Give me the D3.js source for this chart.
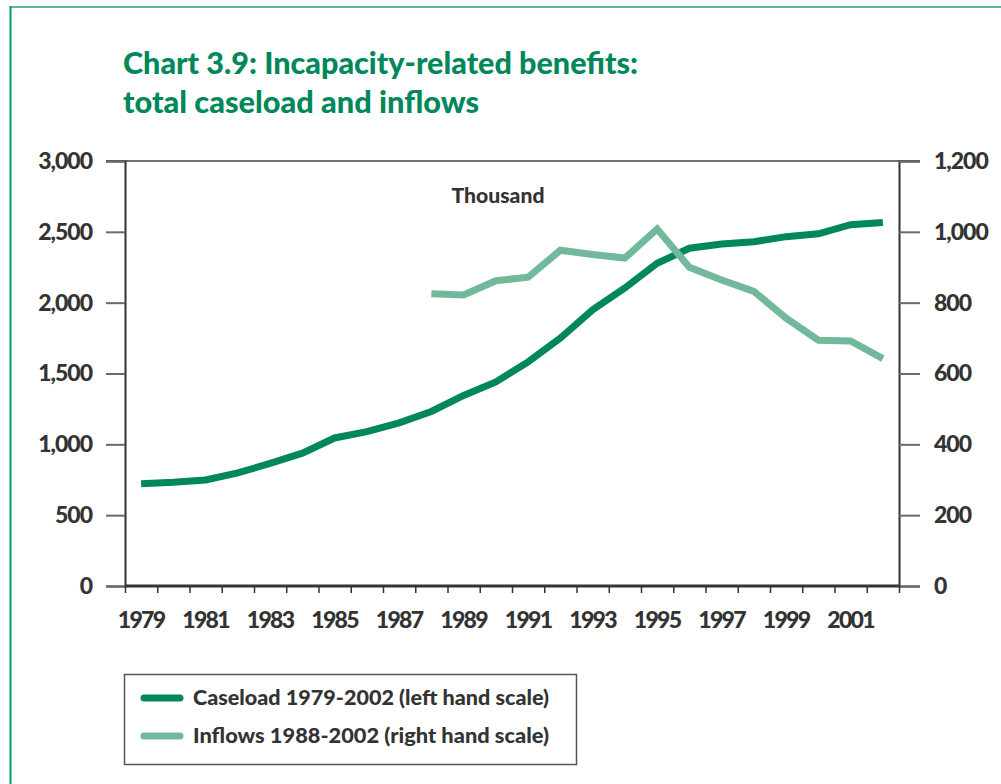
<!DOCTYPE html>
<html>
<head>
<meta charset="utf-8">
<script src="https://cdn.jsdelivr.net/npm/d3@7"></script>
<style>
  html, body { margin: 0; padding: 0; background: #fff; }
  svg { display: block; font-family: Lato, "Open Sans", sans-serif; }
</style>
</head>
<body>
<svg id="chart" width="1001" height="784"></svg>
<script>
// Years on the horizontal axis
const years = d3.range(1979, 2003);
// Total caseload (thousand), left hand scale
const caseload = [722, 732, 748, 798, 866, 938, 1045, 1090, 1152, 1232, 1345, 1440, 1582, 1750, 1950, 2104, 2278, 2384, 2414, 2430, 2466, 2486, 2550, 2566];
// Inflows (thousand) 1988-2002, right hand scale
const inflowYears = d3.range(1988, 2003);
const inflows = [825, 822, 862, 872, 948, 936, 926, 1008, 900, 864, 832, 756, 694, 692, 642];
// Tick values
const leftTicks = [0, 500, 1000, 1500, 2000, 2500, 3000];
const rightTicks = [0, 200, 400, 600, 800, 1000, 1200];
const labelYears = years.filter(y => y % 2 === 1);

const titleLines = ["Chart 3.9: Incapacity-related benefits:", "total caseload and inflows"];
const legendItems = [
  { label: "Caseload 1979-2002 (left hand scale)", color: "#00875a" },
  { label: "Inflows 1988-2002 (right hand scale)", color: "#72b99b" }
];

const svg = d3.select("#chart");
const green = "#00875a";
const light = "#72b99b";
const ink = "#333333";

// Page frame
svg.append("line").attr("x1", 10).attr("x2", 1001).attr("y1", 7).attr("y2", 7)
  .attr("stroke", "#5fb796").attr("stroke-width", 2);
svg.append("line").attr("x1", 10.5).attr("x2", 10.5).attr("y1", 6).attr("y2", 784)
  .attr("stroke", "#00a06c").attr("stroke-width", 2);

// Title
const titleWidths = [515, 356];
titleLines.forEach((t, i) => {
  svg.append("text")
    .attr("x", 123).attr("y", 74 + i * 39)
    .attr("fill", green).attr("font-size", 31).attr("font-weight", 900)
    .attr("textLength", titleWidths[i]).attr("lengthAdjust", "spacingAndGlyphs")
    .text(t);
});

// Plot area
const plot = { left: 125, right: 899, top: 161, bottom: 586 };
const xEdge = d3.scaleLinear().domain([1979, 2003]).range([plot.left, plot.right]);
const x = d3.scaleBand().domain(years).range([plot.left, plot.right]).padding(0);
const yL = d3.scaleLinear().domain([0, 3000]).range([plot.bottom, plot.top]);
const yR = d3.scaleLinear().domain([0, 1200]).range([plot.bottom, plot.top]);

// Top border line of plot
svg.append("line").attr("x1", 106).attr("x2", 920).attr("y1", plot.top).attr("y2", plot.top)
  .attr("stroke", "#707070").attr("stroke-width", 2);

// Left axis
const gL = svg.append("g").attr("transform", `translate(${plot.left},0)`)
  .call(d3.axisLeft(yL).tickValues(leftTicks).tickSize(19).tickPadding(14).tickFormat(d3.format(",")));
// Right axis
const gR = svg.append("g").attr("transform", `translate(${plot.right},0)`)
  .call(d3.axisRight(yR).tickValues(rightTicks).tickSize(21).tickPadding(14).tickFormat(d3.format(",")));
[gL, gR].forEach(g => {
  g.select(".domain").attr("stroke", ink).attr("stroke-width", 2);
  g.selectAll(".tick line").attr("stroke", "#6a6a6a").attr("stroke-width", 2);
  g.selectAll(".tick text").attr("fill", ink).attr("font-size", 23).attr("font-weight", 900)
    .attr("font-family", "Lato, sans-serif").attr("letter-spacing", -1);
});

// Bottom axis: tick marks at year boundaries
const gB = svg.append("g").attr("transform", `translate(0,${plot.bottom})`)
  .call(d3.axisBottom(xEdge).tickValues(d3.range(1979, 2004)).tickSize(7).tickFormat(""));
gB.select(".domain").remove();
gB.selectAll(".tick line").attr("stroke", ink).attr("stroke-width", 1.5);
svg.append("line").attr("x1", plot.left).attr("x2", plot.right).attr("y1", plot.bottom).attr("y2", plot.bottom)
  .attr("stroke", ink).attr("stroke-width", 3);

// Bottom axis labels at odd years
const gBL = svg.append("g").attr("transform", `translate(0,${plot.bottom})`)
  .call(d3.axisBottom(x).tickValues(labelYears).tickSize(0).tickPadding(26));
gBL.select(".domain").remove();
gBL.selectAll(".tick text").attr("fill", ink).attr("font-size", 23).attr("font-weight", 900)
  .attr("font-family", "Lato, sans-serif").attr("letter-spacing", -1.6);

// Unit label
svg.append("text").attr("x", 498).attr("y", 203).attr("text-anchor", "middle")
  .attr("fill", ink).attr("font-size", 20).attr("font-weight", 900)
  .attr("textLength", 93).attr("lengthAdjust", "spacingAndGlyphs").text("Thousand");

// Lines
const cx = d => x(d) + x.bandwidth() / 2;
const lineL = d3.line().x((d, i) => cx(years[i])).y(d => yL(d));
const lineR = d3.line().x((d, i) => cx(inflowYears[i])).y(d => yR(d));

svg.append("path").datum(caseload).attr("d", lineL)
  .attr("fill", "none").attr("stroke", green).attr("stroke-width", 7)
  .attr("stroke-linejoin", "miter").attr("stroke-linecap", "butt");
svg.append("path").datum(inflows).attr("d", lineR)
  .attr("fill", "none").attr("stroke", light).attr("stroke-width", 7)
  .attr("stroke-linejoin", "miter").attr("stroke-linecap", "butt");

// Legend
svg.append("rect").attr("x", 124.5).attr("y", 674.5).attr("width", 452).attr("height", 90)
  .attr("fill", "none").attr("stroke", "#555").attr("stroke-width", 1.5);
legendItems.forEach((it, i) => {
  const yy = 698 + i * 38;
  svg.append("line").attr("x1", 144).attr("x2", 180).attr("y1", yy).attr("y2", yy)
    .attr("stroke", it.color).attr("stroke-width", 7).attr("stroke-linecap", "round");
  svg.append("text").attr("x", 193).attr("y", yy + 7)
    .attr("fill", ink).attr("font-size", 20).attr("font-weight", 900)
    .attr("textLength", 356).attr("lengthAdjust", "spacingAndGlyphs")
    .text(it.label);
});
</script>
</body>
</html>
